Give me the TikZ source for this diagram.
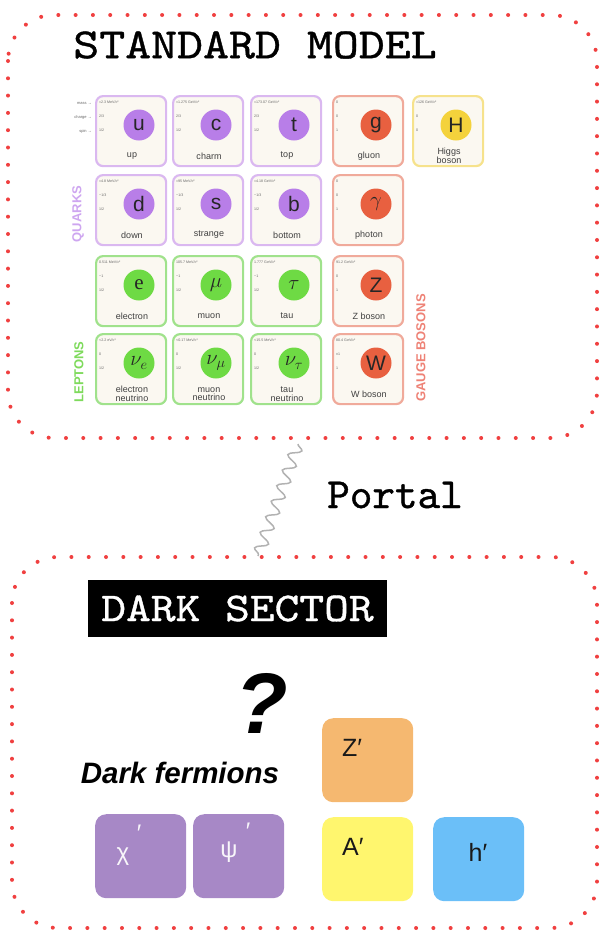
\documentclass[tikz,border=0pt]{standalone}
\usepackage{fontspec}
\setmainfont{Liberation Sans}
\newfontfamily\serifface{Liberation Serif}
\newfontfamily\twfont[FakeBold=0.9]{lmmono10-regular.otf}
\newfontfamily\twwide[FakeBold=0.9,FakeStretch=1.15]{lmmono10-regular.otf}
\usetikzlibrary{decorations.pathmorphing}

\definecolor{framered}{RGB}{240,64,64}
\definecolor{qborder}{RGB}{218,184,240}
\definecolor{qdisk}{RGB}{184,126,232}
\definecolor{lborder}{RGB}{160,226,140}
\definecolor{ldisk}{RGB}{110,218,68}
\definecolor{gborder}{RGB}{240,170,155}
\definecolor{gdisk}{RGB}{232,96,64}
\definecolor{hborder}{RGB}{246,226,140}
\definecolor{hdisk}{RGB}{244,210,60}
\definecolor{cardfill}{RGB}{251,248,241}
\definecolor{qlabel}{RGB}{206,166,240}
\definecolor{llabel}{RGB}{126,218,92}
\definecolor{glabel}{RGB}{238,130,118}
\definecolor{dpurple}{RGB}{167,136,198}
\definecolor{dorange}{RGB}{245,184,112}
\definecolor{dyellow}{RGB}{255,246,110}
\definecolor{dblue}{RGB}{107,191,248}

\newcommand\smcard[8]{%
  \node[card=#2] (#8) at (#1) {};
  \path (#8.north west) ++(44,30) node[smdisk=#2] (#8s) {#3};
  \path (#8.north west) ++(4,7) node[val] {#5};
  \path (#8.north west) ++(4,21) node[val] {#6};
  \path (#8.north west) ++(4,35) node[val] {#7};
  \path (#8.north west) ++(37,61) node[pname] {#4};
}

\begin{document}
\begin{tikzpicture}[x=1pt,y=-1pt,
  frame/.style={draw=framered, line width=4pt, line cap=round,
    dash pattern=on 0pt off 17.3pt, rounded corners=46pt},
  card/.style={draw=#1border, fill=cardfill, line width=2.2pt, rounded corners=7pt,
    minimum width=70pt, minimum height=70pt, anchor=north west, inner sep=0pt},
  smdisk/.style={circle, fill=#1disk, minimum size=31pt, inner sep=0pt,
    text=black!85, font=\fontsize{21}{21}\selectfont},
  val/.style={anchor=west, inner sep=0pt, text=black!60, font=\fontsize{3.6}{4}\selectfont},
  pname/.style={inner sep=0pt, align=center, text=black!75, font=\fontsize{9}{9.5}\selectfont},
  vlabel/.style={rotate=90, inner sep=0pt, font=\bfseries\fontsize{13}{13}\selectfont},
  dbox/.style={fill=#1, rounded corners=11pt, minimum width=91pt, minimum height=84pt,
    anchor=north west, inner sep=0pt},
  dlabel/.style={inner sep=0pt, font=\fontsize{25}{25}\selectfont, text=black!90},
  wlabel/.style={inner sep=0pt, font=\fontsize{24}{24}\selectfont, text=white!92!dpurple}
]
\useasboundingbox (0,0) rectangle (601,937);

% ---------- frames ----------
\draw[frame] (8,15) rectangle (597,438);
\draw[frame] (12,557) rectangle (597,928);

\node[inner sep=0pt, font=\twwide\fontsize{43}{43}\selectfont] (smtitle) at (255,45) {STANDARD MODEL};

% ---------- Standard Model chart ----------
\node[anchor=east, inner sep=0pt, text=black!60, font=\fontsize{4}{4}\selectfont] (lmass) at (92,103) {mass →};
\node[anchor=east, inner sep=0pt, text=black!60, font=\fontsize{4}{4}\selectfont] (lcharge) at (92,117) {charge →};
\node[anchor=east, inner sep=0pt, text=black!60, font=\fontsize{4}{4}\selectfont] (lspin) at (92,131) {spin →};

\smcard{95,95}{q}{u}{up}{≈2.3 MeV/c²}{2/3}{1/2}{cu}
\smcard{172,95}{q}{c}{charm}{≈1.275 GeV/c²}{2/3}{1/2}{cc}
\smcard{250,95}{q}{t}{top}{≈173.07 GeV/c²}{2/3}{1/2}{ct}
\smcard{332,95}{g}{g}{gluon}{0}{0}{1}{cg}
\smcard{412,95}{h}{H}{Higgs\\[-1pt]boson}{≈126 GeV/c²}{0}{0}{ch}

\smcard{95,174}{q}{d}{down}{≈4.8 MeV/c²}{−1/3}{1/2}{cd}
\smcard{172,174}{q}{s}{strange}{≈95 MeV/c²}{−1/3}{1/2}{cs}
\smcard{250,174}{q}{b}{bottom}{≈4.18 GeV/c²}{−1/3}{1/2}{cb}
\smcard{332,174}{g}{$\gamma$}{photon}{0}{0}{1}{cgam}

\smcard{95,255}{l}{\serifface e}{electron}{0.511 MeV/c²}{−1}{1/2}{ce}
\smcard{172,255}{l}{$\mu$}{muon}{105.7 MeV/c²}{−1}{1/2}{cmu}
\smcard{250,255}{l}{$\tau$}{tau}{1.777 GeV/c²}{−1}{1/2}{ctau}
\smcard{332,255}{g}{Z}{Z boson}{91.2 GeV/c²}{0}{1}{cz}

\smcard{95,333}{l}{$\nu_e$}{electron\\[-1pt]neutrino}{<2.2 eV/c²}{0}{1/2}{cnue}
\smcard{172,333}{l}{$\nu_\mu$}{muon\\[-1pt]neutrino}{<0.17 MeV/c²}{0}{1/2}{cnumu}
\smcard{250,333}{l}{$\nu_\tau$}{tau\\[-1pt]neutrino}{<15.5 MeV/c²}{0}{1/2}{cnutau}
\smcard{332,333}{g}{W}{W boson}{80.4 GeV/c²}{±1}{1}{cw}

\node[vlabel, text=qlabel] (quarks) at (78,214) {QUARKS};
\node[vlabel, text=llabel] (leptons) at (79,372) {LEPTONS};
\node[vlabel, text=glabel] (gauge) at (421,348) {GAUGE BOSONS};

% ---------- portal ----------
\coordinate (pa) at (298,444);
\coordinate (pb) at (258,556);
\draw[gray!60, line width=1.5pt, decorate,
  decoration={snake, amplitude=6pt, segment length=16.5pt}] (pa) -- (pb);
\node[inner sep=0pt, font=\twfont\fontsize{43}{43}\selectfont] (portal) at (395,495) {Portal};

% ---------- dark sector ----------
\node[fill=black, text=white, minimum width=299pt, minimum height=57pt,
  inner sep=0pt, font=\twwide\fontsize{41}{41}\selectfont] (dstitle) at (237.5,608.5) {DARK SECTOR};

\node[inner sep=0pt, font=\bfseries\itshape\fontsize{86}{86}\selectfont] (qmark) at (262,703) {?};
\node[inner sep=0pt, font=\bfseries\itshape\fontsize{29.5}{29.5}\selectfont] (dferm) at (180,773) {Dark fermions};

\node[dbox=dpurple] (chi) at (95,814) {};
\node[dbox=dpurple] (psi) at (193,814) {};
\node[dbox=dorange] (zp) at (322,718) {};
\node[dbox=dyellow] (ap) at (322,817) {};
\node[dbox=dblue] (hp) at (433,817) {};

\node[wlabel] (chil) at (123,857) {χ};
\node[wlabel] (chipr) at (139,833) {′};
\node[wlabel] (psil) at (229,852) {ψ};
\node[wlabel] (psipr) at (248,831) {′};
\node[dlabel, anchor=west] (zpl) at (342,748) {Z′};
\node[dlabel, anchor=west] (apl) at (342,847) {A′};
\node[dlabel] (hpl) at (478,852) {h′};
\end{tikzpicture}
\end{document}
